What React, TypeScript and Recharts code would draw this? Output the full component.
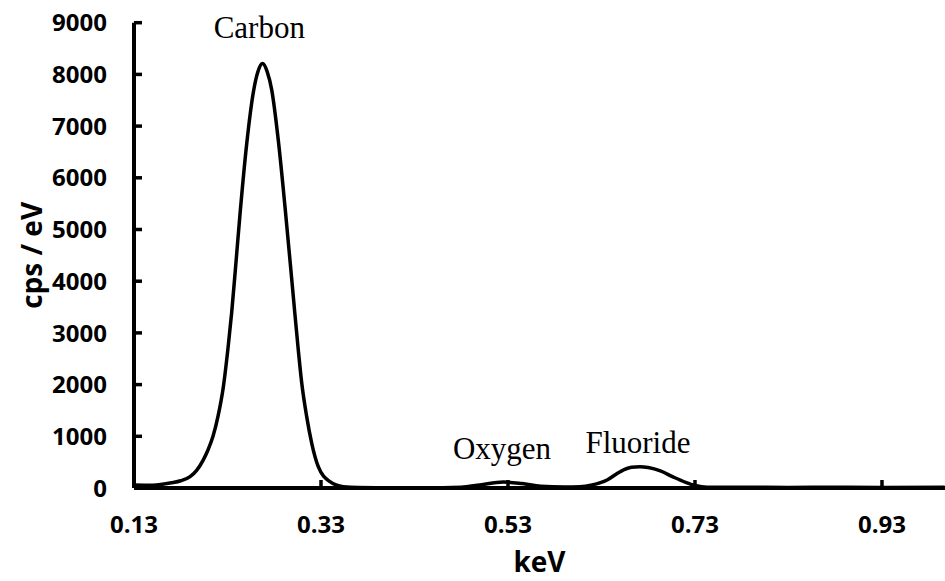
import { LineChart, Line, XAxis, YAxis, ReferenceDot } from 'recharts';

// energy (keV) and counts (cps/eV)
const KEV = [
  0.13, 0.15, 0.17, 0.18, 0.19, 0.197, 0.204, 0.209, 0.2145, 0.22, 0.2255, 0.2308, 0.2345, 0.239,
  0.2434, 0.2505, 0.2576, 0.2625, 0.2675, 0.2725, 0.2773, 0.2843, 0.2915, 0.3004, 0.3057, 0.3094,
  0.3147, 0.3201, 0.3271, 0.3396, 0.3538, 0.37, 0.4, 0.44, 0.48, 0.5, 0.525, 0.545, 0.565, 0.59,
  0.607, 0.62, 0.636, 0.65, 0.662, 0.671, 0.68, 0.693, 0.707, 0.72, 0.73, 0.743, 0.78, 0.83, 0.88,
  0.93, 0.997,
];
const CPS = [
  60, 55, 100, 140, 220, 340, 540, 730, 1000, 1400, 1950, 2750, 3400, 4350,
  5300, 6650, 7650, 8050, 8210, 8050, 7700, 6730, 5440, 3700, 2670, 2030,
  1380, 865, 412, 122, 25, 8, 5, 5, 15, 60, 115, 85, 35, 20,
  25, 60, 155, 315, 400, 412, 395, 330, 210, 110, 50, 15, 15, 12, 15,
  12, 15,
];

const X_TICKS = [0.13, 0.33, 0.53, 0.73, 0.93];
const Y_TICKS = [0, 1000, 2000, 3000, 4000, 5000, 6000, 7000, 8000, 9000];

// peak annotations: [text, keV, cps]
const PEAKS: [string, number, number][] = [
  ['Carbon', 0.264, 8917],
  ['Oxygen', 0.5236, 783],
  ['Fluoride', 0.669, 890],
];

const data = KEV.map((k, i) => ({ kev: k, cps: CPS[i] }));

const SANS = '"Open Sans", sans-serif';
const TITLE = { fill: '#000', fontSize: 28, fontWeight: 700, fontFamily: SANS };
const SERIF = { fill: '#000', fontSize: 31, fontFamily: '"Liberation Serif", "Times New Roman", serif' };

const X_MARGIN = 28;
const Y_MARGIN = 27;
const TICK_LEN = 8;

// ticks point into the plot, so draw the mark with the label
const XTick = ({ x, y, payload }: any) => (
  <g>
    <line x1={x} x2={x} y1={y - X_MARGIN} y2={y - X_MARGIN - TICK_LEN} stroke="#000" strokeWidth={3.5} />
    <text x={x} y={y} dy="0.72em" textAnchor="middle" fontSize={24} fontWeight={700} fontFamily={SANS} fill="#000">
      {Number(payload.value).toFixed(2)}
    </text>
  </g>
);

const YTick = ({ x, y, payload }: any) => (
  <g>
    <line x1={x + Y_MARGIN} x2={x + Y_MARGIN + TICK_LEN} y1={y} y2={y} stroke="#000" strokeWidth={3.5} />
    <text x={x} y={y} dy="0.36em" textAnchor="end" fontSize={24} fontWeight={700} fontFamily={SANS} fill="#000">
      {payload.value}
    </text>
  </g>
);

export default function App() {
  return (
    <div style={{ position: 'absolute', left: 0, top: 0 }}>
      <LineChart width={945} height={581} data={data} margin={{ top: 22.7, right: 0, bottom: 0, left: 0 }}>
        <XAxis
          dataKey="kev"
          type="number"
          domain={[0.13, 0.9974]}
          ticks={X_TICKS}
          allowDataOverflow
          height={93}
          tickLine={false}
          tickSize={0}
          tickMargin={X_MARGIN}
          tick={<XTick />}
          axisLine={{ stroke: '#000', strokeWidth: 4 }}
          label={{ value: 'keV', position: 'insideBottom', offset: 9, style: TITLE }}
        />
        <YAxis
          type="number"
          domain={[0, 9000]}
          ticks={Y_TICKS}
          width={134}
          tickLine={false}
          tickSize={0}
          tickMargin={Y_MARGIN}
          tick={<YTick />}
          axisLine={{ stroke: '#000', strokeWidth: 4 }}
          label={{
            value: 'cps / eV',
            angle: -90,
            position: 'insideLeft',
            offset: 32,
            style: { ...TITLE, textAnchor: 'middle' },
          }}
        />
        <Line
          dataKey="cps"
          type="monotone"
          stroke="#000"
          strokeWidth={3.5}
          dot={false}
          isAnimationActive={false}
        />
        {PEAKS.map(([name, k, c]) => (
          <ReferenceDot
            key={name}
            x={k}
            y={c}
            r={0}
            stroke="none"
            fill="none"
            label={{ value: name, position: 'center', style: SERIF }}
          />
        ))}
      </LineChart>
    </div>
  );
}
